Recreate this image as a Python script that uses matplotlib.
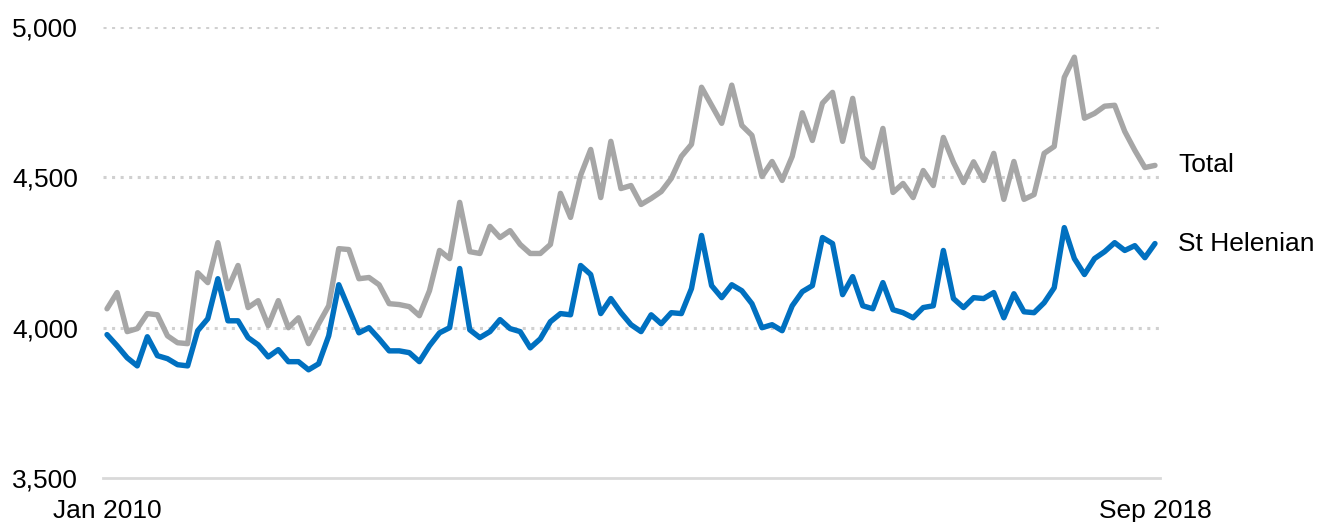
import matplotlib
matplotlib.use("Agg")
import matplotlib.pyplot as plt
from matplotlib.ticker import FuncFormatter

# monthly values, Jan 2010 .. Sep 2018 (105 months)
months = list(range(105))
x_labels = ["Jan 2010", "Sep 2018"]

total = [4063, 4117, 3987, 3997, 4047, 4043, 3973, 3950, 3947, 4183,
         4150, 4283, 4130, 4207, 4067, 4090, 4007, 4090, 4000, 4033,
         3947, 4013, 4073, 4263, 4260, 4163, 4167, 4143, 4080, 4077,
         4070, 4040, 4123, 4257, 4230, 4417, 4253, 4247, 4337, 4300,
         4323, 4277, 4247, 4247, 4277, 4447, 4367, 4507, 4593, 4433,
         4620, 4463, 4473, 4410, 4430, 4453, 4497, 4570, 4610, 4800,
         4740, 4680, 4807, 4673, 4640, 4503, 4553, 4490, 4570, 4715,
         4623, 4747, 4783, 4620, 4763, 4567, 4533, 4663, 4450, 4480,
         4433, 4523, 4473, 4633, 4550, 4483, 4552, 4490, 4580, 4427,
         4553, 4427, 4443, 4580, 4603, 4833, 4900, 4697, 4713, 4737,
         4740, 4653, 4590, 4533, 4540]

st_helenian = [3977, 3940, 3900, 3873, 3970, 3907, 3897, 3877, 3873, 3990,
               4030, 4163, 4023, 4023, 3967, 3943, 3903, 3927, 3887, 3887,
               3860, 3880, 3973, 4143, 4063, 3983, 4000, 3963, 3923, 3923,
               3917, 3887, 3940, 3983, 4000, 4197, 3993, 3967, 3987, 4027,
               3997, 3987, 3933, 3963, 4020, 4047, 4043, 4207, 4177, 4047,
               4097, 4050, 4010, 3987, 4043, 4013, 4050, 4047, 4130, 4307,
               4140, 4100, 4143, 4123, 4080, 4000, 4010, 3990, 4073, 4120,
               4140, 4300, 4280, 4110, 4170, 4073, 4063, 4150, 4060, 4050,
               4033, 4067, 4073, 4257, 4097, 4067, 4100, 4097, 4117, 4033,
               4113, 4053, 4050, 4083, 4133, 4333, 4230, 4177, 4230, 4253,
               4283, 4257, 4273, 4233, 4280]

y_ticks = [3500, 4000, 4500, 5000]

plt.rcParams["font.family"] = ["Liberation Sans", "DejaVu Sans"]

fig = plt.figure(figsize=(13.17, 5.22), dpi=100)
ax = fig.add_axes([0.0782, 0.0843, 0.8026, 0.8637])

for yv in y_ticks[1:]:
    ax.axhline(yv, color="#d0d0d0", lw=2.2, ls=(0, (1, 1.8)), zorder=1)

series = [(total, "#a6a6a6", "Total"), (st_helenian, "#0070c0", "St Helenian")]
for vals, col, name in series:
    ax.plot(months, vals, color=col, lw=3.9, solid_joinstyle="round",
            solid_capstyle="round", zorder=3)
    ax.annotate(name, (months[-1], vals[-1]), xytext=(16.5, 0),
                textcoords="offset points", va="center", ha="left",
                fontsize=19, color="#000000")

ax.set_xlim(-0.4, 104.5)
ax.set_ylim(3500, 5000)
ax.set_yticks(y_ticks)
ax.yaxis.set_major_formatter(FuncFormatter(lambda v, p: f"{v:,.0f}"))
ax.set_xticks([months[0], months[-1]])
ax.set_xticklabels(x_labels)

for s in ["top", "right", "left"]:
    ax.spines[s].set_visible(False)
ax.spines["bottom"].set_color("#d9d9d9")
ax.spines["bottom"].set_linewidth(2)
ax.tick_params(axis="both", length=0, labelsize=19, colors="#000000")
ax.tick_params(axis="y", pad=18)
ax.tick_params(axis="x", pad=15)

fig.savefig("out.png", dpi=100)
